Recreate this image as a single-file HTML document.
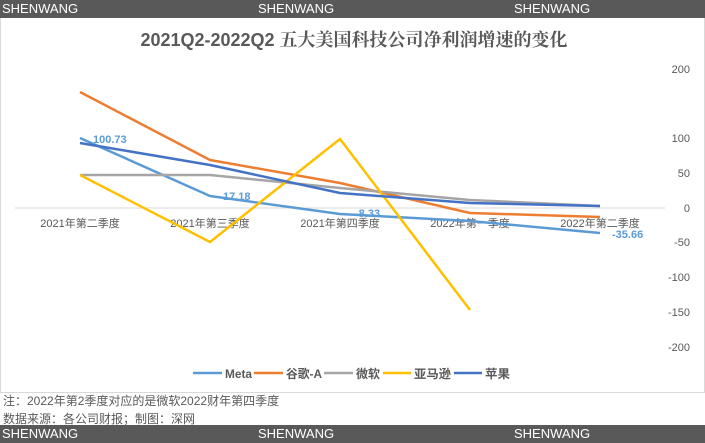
<!DOCTYPE html><html><head><meta charset="utf-8"><style>
body{margin:0;width:705px;height:443px;background:#fff;position:relative;overflow:hidden;font-family:"Liberation Sans","Noto Sans CJK SC",sans-serif}
.bar{position:absolute;left:0;width:705px;height:18px;background:#595959;color:#fff;font-size:13px;line-height:18px}
.bar span{position:absolute}
</style></head><body>
<div class="bar" style="top:0"><span style="left:2px">SHENWANG</span><span style="left:258px">SHENWANG</span><span style="left:514px">SHENWANG</span></div>
<div style="position:absolute;left:0;top:18px;width:703px;height:374px;border:1px solid #d9d9d9;border-top:none"></div>
<svg style="position:absolute;left:0;top:0" width="705" height="443">
<text x="354" y="46" text-anchor="middle" font-size="18" font-weight="bold" fill="#595959" font-family="Liberation Sans,Noto Serif CJK SC,serif">2021Q2-2022Q2 五大美国科技公司净利润增速的变化</text>
<g font-size="11" fill="#595959" text-anchor="end">
<text x="690" y="73">200</text><text x="690" y="142">100</text><text x="690" y="177">50</text><text x="690" y="212">0</text>
<text x="690" y="246">-50</text><text x="690" y="281">-100</text><text x="690" y="316">-150</text><text x="690" y="351">-200</text></g>
<line x1="15" y1="208" x2="665" y2="208" stroke="#d9d9d9"/>
<g font-size="11" fill="#595959" text-anchor="middle">
<text x="80" y="227">2021年第二季度</text><text x="210" y="227">2021年第三季度</text><text x="340" y="227">2021年第四季度</text><text x="470" y="227">2022年第一季度</text><text x="600" y="227">2022年第二季度</text></g>
<g fill="none" stroke-width="2.5" stroke-linejoin="round">
<polyline stroke="#5b9bd5" points="80,138 210,196 340,214 470,221 600,233"/>
<polyline stroke="#ed7d31" points="80,92 210,160 340,183 470,213 600,217"/>
<polyline stroke="#a5a5a5" points="80,175 210,175 340,188 470,200 600,206"/>
<polyline stroke="#ffc000" points="80,175 210,242 340,139 470,310"/>
<polyline stroke="#4472c4" points="80,143 210,165 340,193 470,203 600,206"/>
</g>
<g font-size="11" font-weight="bold" fill="#5b9bd5">
<text x="93" y="143">100.73</text><text x="223" y="200">17.18</text><text x="355" y="217">-8.33</text><text x="612" y="238">-35.66</text></g>
<g font-size="12" font-weight="bold" fill="#595959">
<line x1="193" y1="373" x2="222" y2="373" stroke="#5b9bd5" stroke-width="2.5"/><text x="225" y="378" textLength="27" lengthAdjust="spacingAndGlyphs">Meta</text>
<line x1="254" y1="373" x2="283" y2="373" stroke="#ed7d31" stroke-width="2.5"/><text x="286" y="378" textLength="36" lengthAdjust="spacingAndGlyphs">谷歌-A</text>
<line x1="324" y1="373" x2="353" y2="373" stroke="#a5a5a5" stroke-width="2.5"/><text x="356" y="378" textLength="24" lengthAdjust="spacingAndGlyphs">微软</text>
<line x1="383" y1="373" x2="411" y2="373" stroke="#ffc000" stroke-width="2.5"/><text x="414" y="378" textLength="37" lengthAdjust="spacingAndGlyphs">亚马逊</text>
<line x1="454" y1="373" x2="482" y2="373" stroke="#4472c4" stroke-width="2.5"/><text x="485" y="378" textLength="25" lengthAdjust="spacingAndGlyphs">苹果</text></g>
<g font-size="12" fill="#595959"><text x="3" y="405">注：2022年第2季度对应的是微软2022财年第四季度</text><text x="3" y="423">数据来源：各公司财报；制图：深网</text></g>
</svg>
<div class="bar" style="top:425px"><span style="left:2px">SHENWANG</span><span style="left:258px">SHENWANG</span><span style="left:514px">SHENWANG</span></div>
</body></html>
